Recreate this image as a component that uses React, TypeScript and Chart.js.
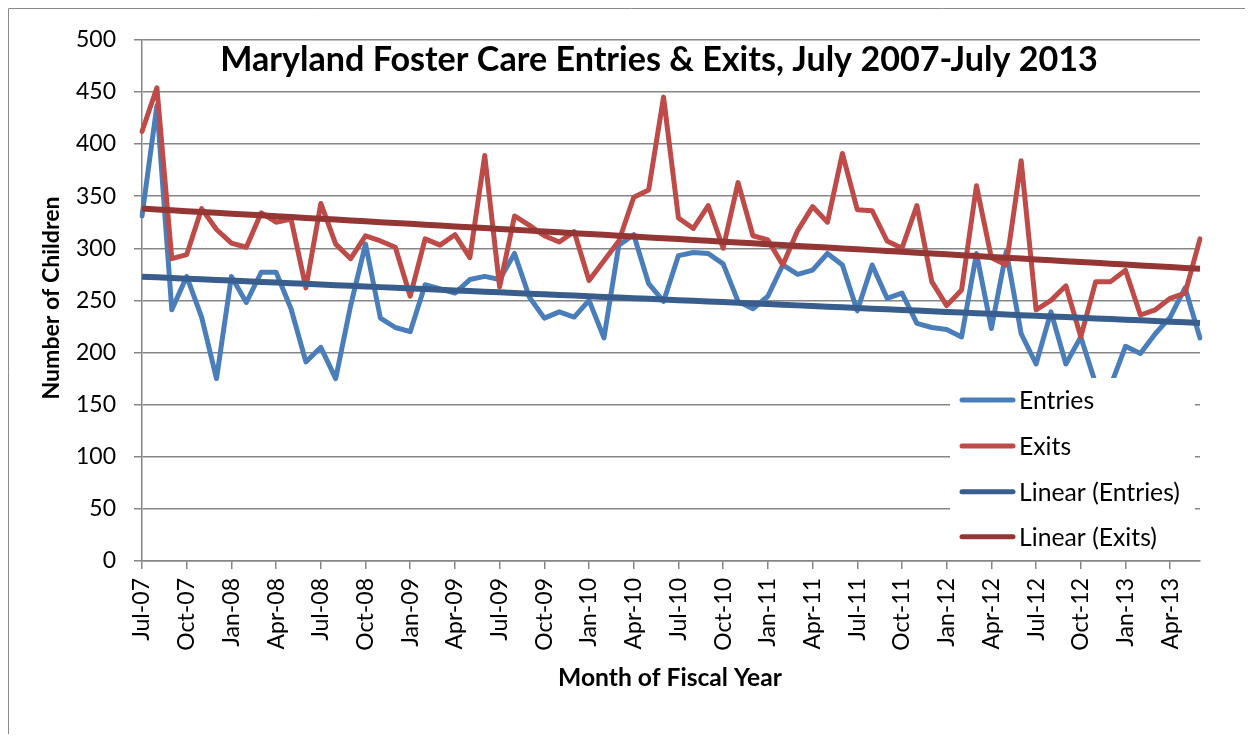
import React, { useEffect, useRef } from "react";
import { Chart, registerables } from "chart.js";

Chart.register(...registerables);

const months: string[] = [
  "Jul-07", "Aug-07", "Sep-07", "Oct-07", "Nov-07", "Dec-07",
  "Jan-08", "Feb-08", "Mar-08", "Apr-08", "May-08", "Jun-08",
  "Jul-08", "Aug-08", "Sep-08", "Oct-08", "Nov-08", "Dec-08",
  "Jan-09", "Feb-09", "Mar-09", "Apr-09", "May-09", "Jun-09",
  "Jul-09", "Aug-09", "Sep-09", "Oct-09", "Nov-09", "Dec-09",
  "Jan-10", "Feb-10", "Mar-10", "Apr-10", "May-10", "Jun-10",
  "Jul-10", "Aug-10", "Sep-10", "Oct-10", "Nov-10", "Dec-10",
  "Jan-11", "Feb-11", "Mar-11", "Apr-11", "May-11", "Jun-11",
  "Jul-11", "Aug-11", "Sep-11", "Oct-11", "Nov-11", "Dec-11",
  "Jan-12", "Feb-12", "Mar-12", "Apr-12", "May-12", "Jun-12",
  "Jul-12", "Aug-12", "Sep-12", "Oct-12", "Nov-12", "Dec-12",
  "Jan-13", "Feb-13", "Mar-13", "Apr-13", "May-13", "Jun-13",
];

const entries: number[] = [
  331, 437, 241, 273, 234, 175, 273, 248, 277, 277, 242, 191,
  205, 175, 245, 304, 233, 224, 220, 265, 261, 257, 270, 273,
  270, 295, 253, 233, 239, 234, 250, 214, 303, 313, 266, 249,
  293, 296, 295, 285, 249, 242, 254, 284, 275, 279, 295, 284,
  240, 284, 252, 257, 228, 224, 222, 215, 295, 223, 297, 218,
  189, 239, 189, 215, 170, 168, 206, 199, 218, 234, 262, 214,
];

const exits: number[] = [
  412, 454, 290, 294, 338, 318, 305, 301, 334, 325, 328, 262,
  343, 304, 290, 312, 307, 301, 254, 309, 303, 313, 291, 389,
  263, 331, 322, 312, 306, 316, 269, 288, 307, 349, 356, 445,
  329, 319, 341, 300, 363, 312, 308, 284, 317, 340, 325, 391,
  337, 336, 307, 300, 341, 268, 245, 260, 360, 291, 284, 384,
  241, 250, 264, 215, 268, 268, 279, 236, 241, 252, 257, 309,
];

const seriesLabels = ["Entries", "Exits", "Linear (Entries)", "Linear (Exits)"];
const titleText = "Maryland Foster Care Entries & Exits, July 2007-July 2013";
const xTitle = "Month of Fiscal Year";
const yTitle = "Number of Children";

const C_ENTRIES = "#4A7EBB";
const C_EXITS = "#BE4B48";
const C_LIN_ENTRIES = "#395E8D";
const C_LIN_EXITS = "#943634";
const GRID = "#868686";
const FONT = "Lato, 'Liberation Sans', sans-serif";

function linearFit(vals: number[]): number[] {
  const n = vals.length;
  let sx = 0, sy = 0, sxx = 0, sxy = 0;
  vals.forEach((v, i) => { sx += i; sy += v; sxx += i * i; sxy += i * v; });
  const b = (n * sxy - sx * sy) / (n * sxx - sx * sx);
  const a = (sy - b * sx) / n;
  return vals.map((_, i) => a + b * i);
}

function fitFont(ctx: CanvasRenderingContext2D, text: string, weight: string, target: number, base: number) {
  ctx.font = `${weight} ${base}px ${FONT}`;
  const w = ctx.measureText(text).width;
  const size = base * target / w;
  return `${weight} ${size.toFixed(2)}px ${FONT}`;
}

const overlayPlugin = {
  id: "overlay",
  afterDatasetsDraw(chart: any) {
    const ctx: CanvasRenderingContext2D = chart.ctx;
    ctx.save();
    ctx.fillStyle = "#ffffff";
    ctx.fillRect(942, 370, 245, 181);
    const colors = [C_ENTRIES, C_EXITS, C_LIN_ENTRIES, C_LIN_EXITS];
    const ys = [392, 438, 483.7, 528.7];
    const legendFont = fitFont(ctx, seriesLabels[2], "normal", 161, 24);
    chart.data.datasets.forEach((ds: any, i: number) => {
      ctx.strokeStyle = colors[i];
      ctx.lineWidth = 5;
      ctx.lineCap = "round";
      ctx.beginPath();
      ctx.moveTo(954, ys[i]);
      ctx.lineTo(1005, ys[i]);
      ctx.stroke();
      ctx.fillStyle = "#000";
      ctx.font = legendFont;
      ctx.textAlign = "left";
      ctx.textBaseline = "middle";
      ctx.fillText(ds.label, 1011, ys[i] + 1);
    });
    ctx.restore();
  },
  afterDraw(chart: any) {
    const ctx: CanvasRenderingContext2D = chart.ctx;
    ctx.save();
    ctx.strokeStyle = "#8a8a8a";
    ctx.lineWidth = 1;
    ctx.beginPath();
    ctx.moveTo(0.5, 800);
    ctx.lineTo(0.5, 0.5);
    ctx.lineTo(1400, 0.5);
    ctx.stroke();
    ctx.fillStyle = "#000";
    ctx.font = fitFont(ctx, titleText, "bold", 878, 30);
    ctx.textAlign = "center";
    ctx.textBaseline = "alphabetic";
    ctx.fillText(titleText, 651, 63);
    ctx.font = fitFont(ctx, xTitle, "bold", 224, 22);
    ctx.fillText(xTitle, 662, 678);
    ctx.translate(44, 290);
    ctx.rotate(-Math.PI / 2);
    ctx.font = fitFont(ctx, yTitle, "bold", 203, 22);
    ctx.textBaseline = "middle";
    ctx.fillText(yTitle, 0, 0);
    ctx.restore();
  },
};

export default function App() {
  const ref = useRef<HTMLCanvasElement | null>(null);

  useEffect(() => {
    document.body.style.overflow = "hidden";
    const canvas = ref.current;
    if (!canvas) return;
    const chart = new Chart(canvas, {
      type: "line",
      data: {
        labels: months,
        datasets: [
          {
            label: seriesLabels[0], data: entries, borderColor: C_ENTRIES, backgroundColor: C_ENTRIES,
            borderWidth: 5, pointRadius: 0, tension: 0, order: 3, borderJoinStyle: "round", borderCapStyle: "round",
          },
          {
            label: seriesLabels[1], data: exits, borderColor: C_EXITS, backgroundColor: C_EXITS,
            borderWidth: 5, pointRadius: 0, tension: 0, order: 2, borderJoinStyle: "round", borderCapStyle: "round",
          },
          {
            label: seriesLabels[2], data: linearFit(entries), borderColor: C_LIN_ENTRIES, backgroundColor: C_LIN_ENTRIES,
            borderWidth: 6, pointRadius: 0, tension: 0, order: 1,
          },
          {
            label: seriesLabels[3], data: linearFit(exits), borderColor: C_LIN_EXITS, backgroundColor: C_LIN_EXITS,
            borderWidth: 6, pointRadius: 0, tension: 0, order: 0,
          },
        ],
      },
      options: {
        animation: false,
        responsive: false,
        maintainAspectRatio: false,
        layout: { padding: { left: 0, top: 26, right: 53, bottom: 0 } },
        plugins: {
          legend: { display: false },
          title: { display: false },
          tooltip: { enabled: false },
        },
        scales: {
          x: {
            type: "category",
            offset: false,
            grid: {
              display: true,
              drawOnChartArea: false,
              drawTicks: true,
              tickLength: 8,
              lineWidth: 1.5,
              color: (c: any) => (c.index % 3 === 0 ? GRID : "rgba(0,0,0,0)"),
            },
            border: { display: true, color: GRID, width: 1.5 },
            ticks: {
              autoSkip: false,
              maxRotation: 90,
              minRotation: 90,
              padding: 9,
              color: "#000",
              font: { family: FONT, size: 23 },
              callback: (_v: any, i: number) => (i % 3 === 0 ? months[i] : ""),
            },
            afterFit: (s: any) => { s.height = 173; },
          },
          y: {
            min: 0,
            max: 500,
            grid: { color: GRID, lineWidth: 1.5, tickLength: 8 },
            border: { display: true, color: GRID, width: 1.5 },
            ticks: {
              stepSize: 50,
              padding: 18,
              color: "#000",
              font: { family: FONT, size: 23 },
            },
            afterFit: (s: any) => { s.width = 134; },
          },
        },
      },
      plugins: [overlayPlugin],
    });
    return () => chart.destroy();
  }, []);

  return (
    <canvas
      ref={ref}
      width={1245}
      height={726}
      style={{ display: "block", width: "1245px", height: "726px" }}
    />
  );
}
